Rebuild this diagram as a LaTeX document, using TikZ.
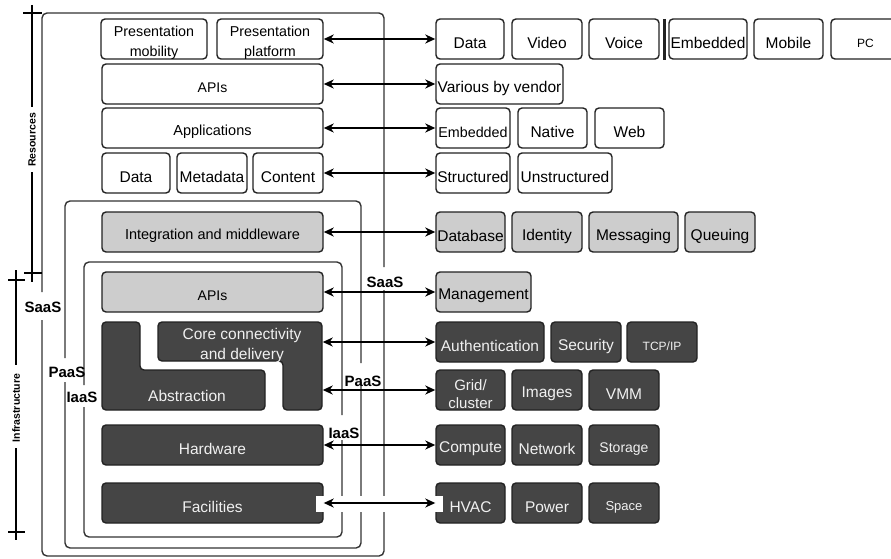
\documentclass[tikz,border=0pt]{standalone}
\usepackage{fontspec}
\setmainfont{Liberation Sans}
\usetikzlibrary{arrows.meta}
\definecolor{dk}{HTML}{454545}
\definecolor{lg}{HTML}{CDCDCD}
\definecolor{ln}{HTML}{222222}
\definecolor{fr}{HTML}{333333}
\definecolor{lt}{HTML}{F0F0F0}
\tikzset{
 boxw/.style={draw=ln, line width=1.4pt, rounded corners=4pt, fill=white, inner sep=0pt},
 boxg/.style={boxw, fill=lg},
 boxd/.style={boxw, fill=dk},
 tw/.style={inner sep=0pt, align=center, text=black, font=\fontsize{15.5}{20}\selectfont},
 td/.style={tw, text=lt},
 frm/.style={draw=fr, line width=1.4pt, rounded corners=5pt},
 axisline/.style={line width=2.2pt, draw=black},
 arr/.style={line width=1.6pt, {Stealth[length=10pt,width=9pt,inset=3pt]}-{Stealth[length=10pt,width=9pt,inset=3pt]}},
 tag/.style={font=\bfseries\fontsize{15}{18}\selectfont, inner sep=0pt},
 axlabel/.style={font=\bfseries\fontsize{10.5}{12}\selectfont, rotate=90, inner sep=0pt},
}
\newcommand\bx[8]{%
 \node[#2, minimum width={(#6)-(#4)}, minimum height={(#7)-(#5)}] (#1) at ({((#4)+(#6))/2},{((#5)+(#7))/2}) {};
 \node[#3] (#1-t) at ([yshift=-4pt]#1.center) {#8};}
\begin{document}
\begin{tikzpicture}[x=1pt,y=-1pt]
\useasboundingbox (0,0) rectangle (891,559);
% frames
\draw[frm] (42,292) -- (42,13) -- (384,13) -- (384,267);
\draw[frm] (384,290) -- (384,556) -- (42,556) -- (42,320);
\draw[frm] (65,358) -- (65,201) -- (361,201) -- (361,363);
\draw[frm] (361,382) -- (361,548) -- (65,548) -- (65,382);
\draw[frm] (84,385) -- (84,262) -- (342,262) -- (342,415);
\draw[frm] (342,440) -- (342,537) -- (84,537) -- (84,407);
\node[tag] (saasR) at (385,282) {SaaS};
\node[tag] (paasR) at (363,381) {PaaS};
\node[tag] (iaasR) at (344,433) {IaaS};
\node[tag] (saasL) at (43,307) {SaaS};
\node[tag] (paasL) at (67,372) {PaaS};
\node[tag] (iaasL) at (82,397) {IaaS};
% axes
\draw[axisline] (32,5) -- (32,107);
\draw[axisline] (32,172) -- (32,282);
\draw[axisline] (23,13) -- (42,13);
\draw[axisline] (24,273) -- (42,273);
\node[axlabel] (res) at (32,140) {Resources};
\draw[axisline] (16,270) -- (16,365);
\draw[axisline] (16,448) -- (16,540);
\draw[axisline] (8,280) -- (25,280);
\draw[axisline] (8,532) -- (25,532);
\node[axlabel] (inf) at (16,408) {Infrastructure};
% left column
\bx{pm}{boxw}{tw,font=\fontsize{14.3}{20}\selectfont}{101}{19}{207}{59}{Presentation\\mobility}
\bx{pp}{boxw}{tw,font=\fontsize{14.3}{20}\selectfont}{217}{19}{323}{59}{Presentation\\platform}
\bx{apis}{boxw}{tw,font=\fontsize{14}{20}\selectfont}{102}{64}{323}{104}{APIs}
\bx{apps}{boxw}{tw,font=\fontsize{14.5}{20}\selectfont}{102}{108}{323}{148}{Applications}
\bx{data}{boxw}{tw}{102}{153}{170}{193}{Data}
\bx{meta}{boxw}{tw}{177}{153}{247}{193}{Metadata}
\bx{cont}{boxw}{tw}{253}{153}{323}{193}{Content}
\bx{integ}{boxg}{tw,font=\fontsize{14.5}{20}\selectfont}{102}{212}{323}{252}{Integration and middleware}
\bx{apis2}{boxg}{tw,font=\fontsize{14}{20}\selectfont}{102}{272}{323}{312}{APIs}
\draw[boxd] (102,322) -- (140,322) -- (140,370) -- (265,370) -- (265,410) -- (102,410) -- cycle;
\node[td] (abs-t) at (187,396) {Abstraction};
\draw[boxd] (158,322) -- (322,322) -- (322,410) -- (283,410) -- (283,361) -- (158,361) -- cycle;
\node[td] (core-t) at (242,345) {Core connectivity\\and delivery};
\coordinate (coreA) at (322.7,342);
\coordinate (coreB) at (322.7,390);
\bx{hw}{boxd}{td}{102}{425}{323}{465}{Hardware}
\bx{fac}{boxd}{td}{102}{483}{323}{523}{Facilities}
% right column
\bx{d1}{boxw}{tw}{436}{19}{504}{59}{Data}
\bx{vid}{boxw}{tw}{512}{19}{582}{59}{Video}
\bx{voi}{boxw}{tw}{589}{19}{659}{59}{Voice}
\draw[line width=3pt, draw=ln] (664,19) -- (664,60);
\bx{em1}{boxw}{tw}{669}{19}{747}{59}{Embedded}
\bx{mob}{boxw}{tw}{754}{19}{823}{59}{Mobile}
\bx{pc}{boxw}{tw,font=\fontsize{12}{20}\selectfont}{831}{19}{900}{59}{PC}
\bx{vbv}{boxw}{tw}{436}{64}{563}{104}{Various by vendor}
\bx{em2}{boxw}{tw,font=\fontsize{14.3}{20}\selectfont}{436}{108}{510}{148}{Embedded}
\bx{nat}{boxw}{tw}{518}{108}{587}{148}{Native}
\bx{web}{boxw}{tw}{595}{108}{664}{148}{Web}
\bx{str}{boxw}{tw}{436}{153}{510}{193}{Structured}
\bx{uns}{boxw}{tw}{518}{153}{612}{193}{Unstructured}
\bx{db}{boxg}{tw}{436}{212}{505}{252}{Database}
\bx{idn}{boxg}{tw}{512}{212}{582}{252}{Identity}
\bx{msg}{boxg}{tw}{589}{212}{678}{252}{Messaging}
\bx{que}{boxg}{tw}{685}{212}{755}{252}{Queuing}
\bx{mgmt}{boxg}{tw}{436}{272}{531}{312}{Management}
\bx{auth}{boxd}{td}{436}{322}{544}{362}{Authentication}
\bx{sec}{boxd}{td}{551}{322}{621}{362}{Security}
\bx{tcp}{boxd}{td,font=\fontsize{12}{20}\selectfont}{627}{322}{697}{362}{TCP/IP}
\bx{grid}{boxd}{td,font=\fontsize{15}{18}\selectfont}{436}{370}{505}{410}{Grid/\\cluster}
\bx{img}{boxd}{td}{512}{370}{582}{410}{Images}
\bx{vmm}{boxd}{td}{589}{370}{659}{410}{VMM}
\bx{comp}{boxd}{td}{436}{425}{505}{465}{Compute}
\bx{net}{boxd}{td}{512}{425}{582}{465}{Network}
\bx{sto}{boxd}{td,font=\fontsize{14}{20}\selectfont}{589}{425}{659}{465}{Storage}
\bx{hvac}{boxd}{td}{436}{483}{505}{523}{HVAC}
\bx{pow}{boxd}{td}{512}{483}{582}{523}{Power}
\bx{spc}{boxd}{td,font=\fontsize{13}{20}\selectfont}{589}{483}{659}{523}{Space}
% connectors
\draw[arr] (pp.east) -- (d1.west);
\draw[arr] (apis.east) -- (vbv.west);
\draw[arr] (apps.east) -- (em2.west);
\draw[arr] (cont.east) -- (str.west);
\draw[arr] (integ.east) -- (db.west);
\draw[arr] (apis2.east) -- (mgmt.west);
\draw[arr] (coreA) -- (auth.west);
\draw[arr] (coreB) -- (grid.west);
\draw[arr] (hw.east) -- (comp.west);
\node[fill=white, inner sep=0pt, minimum width=127, minimum height=16] (wpatch) at (379.5,504) {};
\draw[arr] (fac.east) -- (hvac.west);
\end{tikzpicture}
\end{document}
